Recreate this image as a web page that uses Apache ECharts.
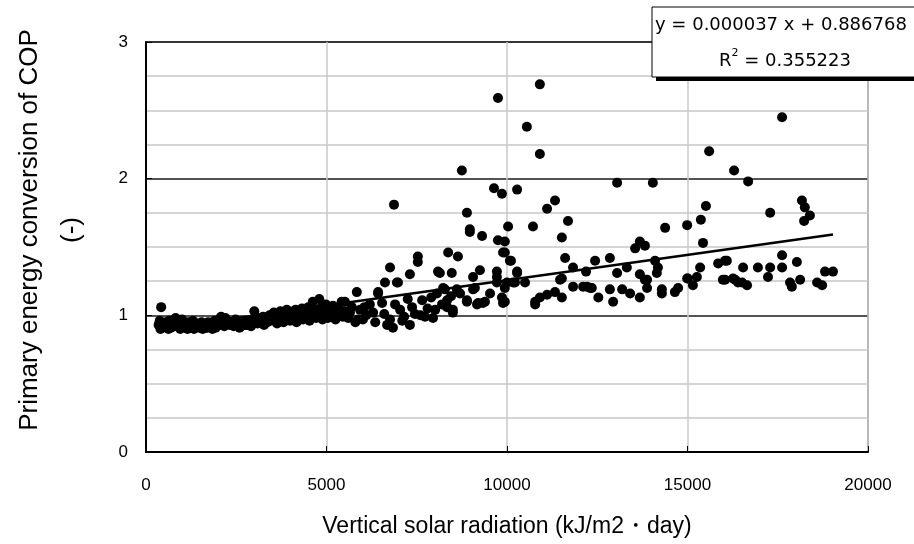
<!DOCTYPE html>
<html>
<head>
<meta charset="utf-8">
<script src="https://cdn.jsdelivr.net/npm/echarts@6/dist/echarts.min.js"></script>
<style>html,body{margin:0;padding:0;background:#fff}#c{width:914px;height:544px}</style>
</head>
<body>
<div id="c"></div>
<script>
// Vertical solar radiation (kJ/m2·day)
const radiation = [
  350,380,420,460,520,580,640,700,760,820,880,940,1000,1060,1120,1180,1240,1300,1360,1420,
  1480,1540,1600,1660,1720,1780,1840,1900,1960,2020,2080,2140,2200,2260,2320,2400,2480,2560,2640,2720,
  2800,2880,2960,3000,3060,3120,3180,3240,3300,3360,3420,3480,3540,3600,3660,3720,3780,3840,3900,3960,
  4020,4080,4140,4200,4260,4320,4380,4440,4500,4560,4620,4680,4740,4800,4860,4920,4980,5040,5100,5180,
  5260,5340,5420,5500,
  5510,5600,5700,5840,5870,5930,6010,6100,6200,6290,6430,6430,6540,6620,6680,6760,6760,6840,6870,6950,
  6980,7040,7150,7310,7310,7370,7450,7530,7530,7650,7730,7800,7900,8010,8060,8090,8140,8230,8280,8340,
  8340,8370,8470,8500,8500,8610,8640,8700,8750,8890,8890,8890,8970,8970,9060,9060,9110,9170,9200,9250,
  9310,9330,9390,9530,9640,9720,9720,9720,9750,9750,9860,9860,9890,9890,9940,9940,9940,9940,10000,10030,
  10080,10110,10170,10220,10280,10280,10280,10500,10550,10720,10780,10780,10910,10910,10910,11110,11110,11330,11330,11470,
  11520,11520,11520,11610,11690,11830,11830,12110,12190,12220,12300,12350,12440,12530,12850,12850,12940,13050,13050,13190,
  13320,13410,13550,13680,13680,13680,13820,13820,13880,13880,14040,14100,14180,14150,14290,14290,14380,14650,14740,14990,
  14990,15010,15150,15260,15350,15370,15430,15510,15600,15850,15980,16040,16040,16090,16260,16290,16320,16400,16510,16540,
  16650,16680,16950,17230,17290,17290,17620,17620,17620,17840,17890,18030,18120,18170,18230,18250,18390,18590,18730,18810,
  19030
];
// Primary energy conversion of COP (-)
const cop = [
  0.93,0.96,1.06,0.91,0.94,0.92,0.96,0.93,0.95,0.98,0.92,0.95,0.97,0.94,0.91,0.95,0.93,0.96,0.92,0.94,
  0.91,0.95,0.93,0.91,0.95,0.92,0.90,0.96,0.93,0.97,0.99,0.95,0.98,0.96,0.93,0.95,0.97,0.94,0.92,0.95,
  0.93,0.96,0.94,1.03,0.96,0.98,0.95,0.99,0.97,0.95,1.00,0.97,1.02,0.98,1.00,1.03,0.97,1.01,1.04,0.99,
  1.02,0.98,1.04,1.00,0.97,1.05,1.01,0.99,1.06,1.02,1.10,1.04,0.99,1.12,1.06,1.02,1.08,0.98,1.04,1.07,
  1.01,1.05,1.10,1.03,
  1.10,0.98,1.06,1.17,0.97,1.04,0.97,1.00,1.08,1.02,1.16,1.17,1.09,1.24,0.93,1.35,0.97,0.91,1.81,1.24,
  1.24,1.04,0.99,1.30,0.93,1.06,1.01,1.43,1.39,1.11,0.99,1.05,1.13,1.04,1.16,1.32,1.31,1.20,1.19,1.06,
  1.11,1.46,1.31,1.02,1.04,1.19,1.43,1.16,2.06,1.11,1.75,1.10,1.63,1.61,1.19,1.28,1.20,1.08,1.09,1.33,
  1.58,1.09,1.10,1.16,1.93,1.32,1.24,1.28,2.59,1.55,1.89,1.13,1.46,1.09,1.54,1.46,1.20,1.10,1.24,1.65,
  1.40,1.40,1.24,1.24,1.92,1.32,1.31,1.24,2.38,1.65,1.10,1.08,2.69,2.18,1.13,1.78,1.15,1.84,1.17,1.26,
  1.57,1.27,1.13,1.42,1.69,1.35,1.21,1.21,1.32,1.21,1.20,1.20,1.40,1.13,1.42,1.19,1.10,1.97,1.31,1.19,
  1.35,1.16,1.49,1.54,1.30,1.13,1.51,1.26,1.20,1.26,1.97,1.40,1.35,1.31,1.19,1.16,1.64,1.17,1.20,1.66,
  1.27,1.27,1.22,1.28,1.35,1.70,1.53,1.80,2.20,1.38,1.26,1.40,1.26,1.40,1.27,2.06,1.26,1.24,1.24,1.35,
  1.22,1.98,1.35,1.28,1.75,1.35,2.45,1.44,1.35,1.24,1.21,1.39,1.26,1.84,1.69,1.79,1.73,1.24,1.22,1.32,
  1.32
];
// Additional winter days in the dense low-radiation band
const radiationExtra = [
  400,480,560,620,690,780,860,950,1030,1150,1260,1330,1450,1570,1690,1810,1930,2050,2170,2290,
  2430,2590,2750,2910,3090,3270,3450,3630,3810,3990,4170,4350,4530,4710,4890,5070,5250,5450,5650,5800,
  6050,6350,6600,6900,7100,7250,7600,7950,8200,8450
];
const copExtra = [
  0.90,0.92,0.95,0.90,0.91,0.92,0.94,0.90,0.92,0.90,0.91,0.90,0.92,0.90,0.91,0.93,0.91,0.93,0.92,0.94,
  0.92,0.91,0.93,0.92,0.94,0.93,0.96,0.94,0.95,0.96,0.95,0.97,0.96,0.98,0.97,1.00,0.97,0.99,1.02,0.95,
  1.06,0.95,1.01,1.08,0.96,1.12,1.00,0.98,1.08,1.14
];
const xTicks = [0, 5000, 10000, 15000, 20000];
const yTicks = [0, 1, 2, 3];
const slope = 0.000037, intercept = 0.886768, r2 = 0.355223;

const allX = radiation.concat(radiationExtra);
const allY = cop.concat(copExtra);
const points = allX.map((x, i) => [x, allY[i]]);
const xMin = Math.min(...allX), xMax = Math.max(...allX);
const trend = [[xMin, slope * xMin + intercept], [xMax, slope * xMax + intercept]];

const FONT = "'Liberation Sans', Arial, sans-serif";
const chart = echarts.init(document.getElementById('c'), null, {renderer: 'canvas'});
chart.setOption({
  animation: false,
  backgroundColor: '#fff',
  grid: {left: 146, right: 46, top: 42, bottom: 92, show: true, borderColor: '#8c8c8c', borderWidth: 2, backgroundColor: 'transparent'},
  xAxis: {
    type: 'value', min: xTicks[0], max: xTicks[xTicks.length - 1], interval: 5000,
    name: 'Vertical solar radiation (kJ/m2・day)', nameLocation: 'middle', nameGap: 63,
    nameTextStyle: {fontFamily: FONT, fontSize: 23, color: '#000'},
    axisLine: {show: true, lineStyle: {color: '#000', width: 2}},
    axisTick: {show: true, inside: true, length: 6, lineStyle: {color: '#000', width: 1}},
    axisLabel: {fontFamily: FONT, fontSize: 17, color: '#000', margin: 25, formatter: v => String(v)},
    splitLine: {show: true, lineStyle: {color: '#c8c8c8', width: 1.5}}
  },
  yAxis: {
    type: 'value', min: yTicks[0], max: yTicks[yTicks.length - 1], interval: 1,
    name: 'Primary energy conversion of COP\n(-)', nameLocation: 'middle', nameRotate: 90, nameGap: 53,
    nameTextStyle: {fontFamily: FONT, fontSize: 26, color: '#000', lineHeight: 42, padding: [0, 0, 0, 34]},
    axisLine: {show: true, lineStyle: {color: '#000', width: 2}},
    axisTick: {show: true, inside: true, length: 6, lineStyle: {color: '#000', width: 1}},
    axisLabel: {fontFamily: FONT, fontSize: 17, color: '#000', margin: 18, formatter: v => String(v)},
    minorTick: {show: false, splitNumber: 4},
    minorSplitLine: {show: true, lineStyle: {color: '#c8c8c8', width: 1.5}},
    splitLine: {show: true, lineStyle: {color: '#1a1a1a', width: 1.5}}
  },
  series: [
    {type: 'scatter', data: points, symbol: 'circle', symbolSize: 10, itemStyle: {color: '#000', opacity: 1}, z: 3},
    {type: 'line', data: trend, symbol: 'none', lineStyle: {color: '#000', width: 2.5}, z: 4, silent: true}
  ],
  graphic: [
    {type: 'rect', shape: {x: 656, y: 11, width: 300, height: 70}, style: {fill: '#000'}, z: 100},
    {type: 'rect', shape: {x: 652, y: 7, width: 300, height: 70}, style: {fill: '#fff', stroke: '#000', lineWidth: 1}, z: 101},
    {type: 'text', x: 655, y: 25, z: 102, style: {text: 'y = ' + slope.toFixed(6) + ' x + ' + intercept.toFixed(6), font: "18px 'DejaVu Sans', sans-serif", fill: '#000', verticalAlign: 'middle', align: 'left'}},
    {type: 'text', x: 785, y: 59, z: 102, style: {
      text: '{b|R}{s|2}{b| = ' + r2.toFixed(6) + '}', align: 'center', verticalAlign: 'middle',
      rich: {b: {font: "18px 'DejaVu Sans', sans-serif", fill: '#000', lineHeight: 22, verticalAlign: 'bottom'}, s: {font: "11px 'DejaVu Sans', sans-serif", fill: '#000', lineHeight: 22, verticalAlign: 'top'}}
    }}
  ]
});
</script>
</body>
</html>
